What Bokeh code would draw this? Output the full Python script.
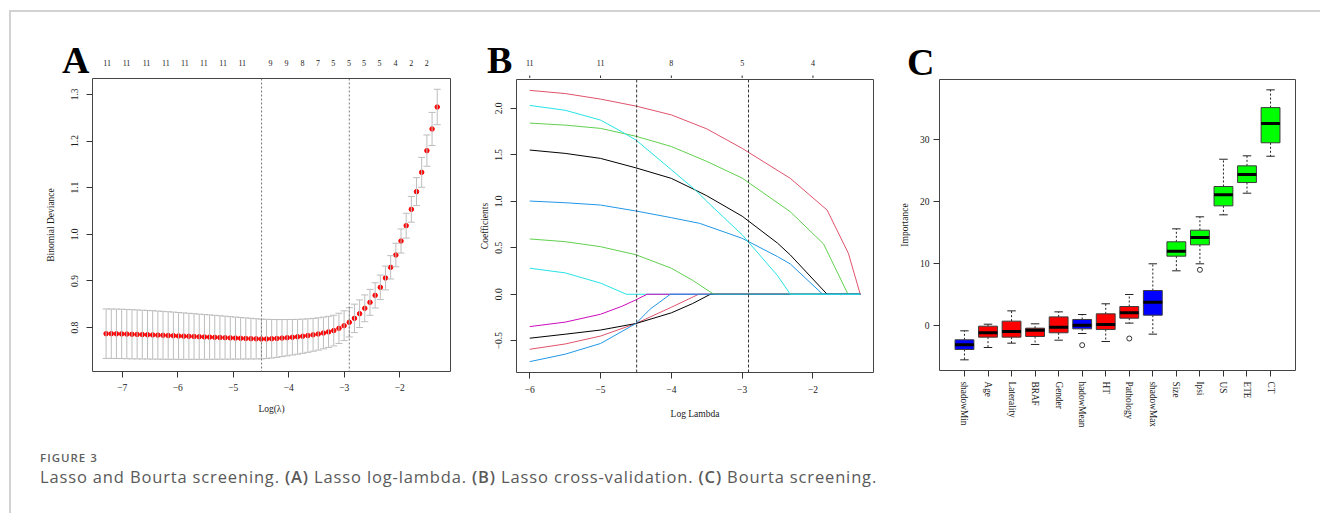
from bokeh.plotting import figure
from bokeh.models import (Range1d, FixedTicker, Span, Whisker, TeeHead,
                          ColumnDataSource, Div, Spacer, CustomJSTickFormatter)
from bokeh.core.properties import value
from bokeh.layouts import row, column
from bokeh.embed import file_html
from bokeh.resources import INLINE

SERIF = "Liberation Serif"

# ---------------- Panel A : cross-validated binomial deviance ----------------
log_lambda_a = [-7.290, -7.197, -7.104, -7.010, -6.917, -6.824, -6.731, -6.638, -6.544, -6.451,
                -6.358, -6.265, -6.172, -6.078, -5.985, -5.892, -5.799, -5.706, -5.613, -5.519,
                -5.426, -5.333, -5.240, -5.147, -5.053, -4.960, -4.867, -4.774, -4.681, -4.587,
                -4.494, -4.401, -4.308, -4.215, -4.122, -4.028, -3.935, -3.842, -3.749, -3.656,
                -3.562, -3.469, -3.376, -3.283, -3.190, -3.096, -3.003, -2.910, -2.817, -2.724,
                -2.631, -2.537, -2.444, -2.351, -2.258, -2.165, -2.071, -1.978, -1.885, -1.792,
                -1.699, -1.606, -1.512, -1.419, -1.326]
deviance_mean = [0.7871, 0.7870, 0.7868, 0.7866, 0.7862, 0.7858, 0.7855, 0.7851, 0.7848, 0.7844,
                 0.7840, 0.7836, 0.7831, 0.7827, 0.7822, 0.7818, 0.7814, 0.7810, 0.7805, 0.7801,
                 0.7797, 0.7793, 0.7789, 0.7785, 0.7780, 0.7776, 0.7772, 0.7768, 0.7764, 0.7760,
                 0.7757, 0.7758, 0.7762, 0.7768, 0.7776, 0.7785, 0.7794, 0.7804, 0.7816, 0.7830,
                 0.7846, 0.7864, 0.7885, 0.7909, 0.7937, 0.7985, 0.8042, 0.8114, 0.8199, 0.8299,
                 0.8414, 0.8542, 0.8692, 0.8864, 0.9064, 0.9293, 0.9557, 0.9857, 1.0186, 1.0536,
                 1.0915, 1.1329, 1.1794, 1.2258, 1.2729]
deviance_se = [0.0530, 0.0530, 0.0529, 0.0529, 0.0528, 0.0527, 0.0525, 0.0523, 0.0521, 0.0519,
               0.0516, 0.0513, 0.0510, 0.0506, 0.0502, 0.0498, 0.0494, 0.0489, 0.0485, 0.0480,
               0.0476, 0.0471, 0.0466, 0.0461, 0.0456, 0.0451, 0.0446, 0.0441, 0.0436, 0.0431,
               0.0426, 0.0420, 0.0413, 0.0405, 0.0397, 0.0389, 0.0381, 0.0373, 0.0366, 0.0359,
               0.0352, 0.0346, 0.0340, 0.0334, 0.0329, 0.0324, 0.0319, 0.0314, 0.0305, 0.0296,
               0.0287, 0.0278, 0.0270, 0.0262, 0.0255, 0.0250, 0.0252, 0.0258, 0.0266, 0.0276,
               0.0300, 0.0320, 0.0335, 0.0355, 0.0380]
top_pos_a = [-7.271, -6.923, -6.562, -6.214, -5.871, -5.529, -5.181, -4.838, -4.328, -4.040,
             -3.751, -3.475, -3.199, -2.917, -2.646, -2.364, -2.076, -1.793, -1.517]
top_nz_a = ["11", "11", "11", "11", "11", "11", "11", "11", "9", "9",
            "8", "7", "5", "5", "5", "5", "4", "2", "2"]
x_ticks_a = [-7, -6, -5, -4, -3, -2]
y_ticks_a = [0.8, 0.9, 1.0, 1.1, 1.2, 1.3]
lambda_min = -4.49
lambda_1se = -2.91

# ---------------- Panel B : coefficient paths ----------------
x_ticks_b = [-6, -5, -4, -3, -2]
y_ticks_b = [-0.5, 0.0, 0.5, 1.0, 1.5, 2.0]
top_nz_b = ["11", "11", "8", "5", "4"]

cyan_low_x = [-6.0, -5.5, -5.0, -4.635, -1.332]
cyan_low_y = [0.28, 0.23, 0.12, 0.0, 0.0]
magenta_x = [-6.0, -5.5, -5.0, -4.7, -4.5, -4.343, -1.332]
magenta_y = [-0.348, -0.30, -0.215, -0.13, -0.06, 0.0, 0.0]
pink_low_x = [-6.0, -5.5, -5.0, -4.5, -4.0, -3.614, -1.332]
pink_low_y = [-0.592, -0.535, -0.45, -0.315, -0.14, 0.0, 0.0]
black_low_x = [-6.0, -5.5, -5.0, -4.5, -4.0, -3.7, -3.449, -1.332]
black_low_y = [-0.473, -0.43, -0.385, -0.315, -0.2, -0.1, 0.0, 0.0]
green_low_x = [-6.0, -5.5, -5.0, -4.5, -4.0, -3.7, -3.4, -1.332]
green_low_y = [0.595, 0.566, 0.512, 0.425, 0.28, 0.15, 0.0, 0.0]
pink_high_x = [-6.0, -5.5, -5.0, -4.5, -4.0, -3.5, -3.0, -2.32, -1.8, -1.5, -1.332]
pink_high_y = [2.194, 2.16, 2.10, 2.025, 1.93, 1.78, 1.57, 1.247, 0.906, 0.441, 0.0]
green_high_x = [-6.0, -5.5, -5.0, -4.5, -4.0, -3.5, -3.0, -2.32, -1.85, -1.505, -1.332]
green_high_y = [1.842, 1.82, 1.785, 1.70, 1.59, 1.43, 1.25, 0.888, 0.541, 0.0, 0.0]
black_high_x = [-6.0, -5.5, -5.0, -4.5, -4.0, -3.66, -3.5, -3.0, -2.5, -2.32, -1.8, -1.332]
black_high_y = [1.552, 1.516, 1.462, 1.36, 1.247, 1.121, 1.06, 0.84, 0.55, 0.423, 0.0, 0.0]
blue_high_x = [-6.0, -5.5, -5.0, -4.5, -4.0, -3.6, -3.0, -2.5, -2.32, -1.863, -1.332]
blue_high_y = [1.003, 0.985, 0.96, 0.896, 0.824, 0.763, 0.602, 0.405, 0.326, 0.0, 0.0]
blue_low_x = [-6.0, -5.5, -5.0, -4.5, -4.3, -4.014, -1.332]
blue_low_y = [-0.725, -0.645, -0.53, -0.315, -0.16, 0.0, 0.0]
cyan_high_x = [-6.0, -5.5, -5.0, -4.75, -4.5, -4.0, -3.66, -3.5, -3.0, -2.5, -2.32, -1.332]
cyan_high_y = [2.032, 1.98, 1.874, 1.77, 1.66, 1.34, 1.121, 1.0, 0.64, 0.20, 0.0, 0.0]

paths_b = [
    (cyan_low_x, cyan_low_y, "#28E2E5"),
    (magenta_x, magenta_y, "#CD0BBC"),
    (pink_low_x, pink_low_y, "#DF536B"),
    (black_low_x, black_low_y, "#000000"),
    (green_low_x, green_low_y, "#61D04F"),
    (pink_high_x, pink_high_y, "#DF536B"),
    (green_high_x, green_high_y, "#61D04F"),
    (black_high_x, black_high_y, "#000000"),
    (blue_high_x, blue_high_y, "#2297E6"),
    (blue_low_x, blue_low_y, "#2297E6"),
    (cyan_high_x, cyan_high_y, "#28E2E5"),
]

# ---------------- Panel C : Boruta importance ----------------
features = ["shadowMin", "Age", "Laterality", "BRAF", "Gender", "shadowMean", "HT",
            "Pathology", "shadowMax", "Size", "Ipsi", "US", "ETE", "CT"]
tick_labels_c = ["shadowMin", "Age", "Laterality", "BRAF", "Gender", "hadowMean", "HT",
                 "Pathology", "shadowMax", "Size", "Ipsi", "US", "ETE", "CT"]
feature_pos = [1, 2, 3, 4, 5, 6, 7, 8, 9, 10, 11, 12, 13, 14]
whisk_lo = [-5.49, -3.5, -2.8, -3.01, -2.32, -1.24, -2.53, 0.43, -1.35, 8.87, 10.0, 17.9, 21.39, 27.35]
q1 = [-3.82, -1.83, -1.83, -1.72, -1.13, -0.49, -0.6, 1.23, 1.71, 11.23, 13.06, 19.35, 23.11, 29.52]
median = [-3.07, -1.13, -0.92, -0.70, -0.22, 0.08, 0.21, 2.09, 3.81, 12.04, 14.24, 21.13, 24.4, 32.63]
q3 = [-2.26, -0.06, 0.75, -0.38, 1.44, 1.02, 1.93, 3.11, 5.69, 13.55, 15.42, 22.47, 25.8, 35.2]
whisk_hi = [-0.81, 0.26, 2.41, 0.32, 2.25, 1.82, 3.55, 5.05, 10.0, 15.64, 17.58, 26.87, 27.42, 38.06]
decision = ["shadow", "rejected", "rejected", "rejected", "rejected", "shadow", "rejected",
            "rejected", "shadow", "confirmed", "confirmed", "confirmed", "confirmed", "confirmed"]
outlier_feature = [6, 8, 11]
outlier_value = [-3.12, -2.05, 9.03]
y_ticks_c = [0, 10, 20, 30]
decision_colors = {"shadow": "#0000FF", "rejected": "#FF0000", "confirmed": "#00FF00"}

MINUS_FMT = "var s = (Math.abs(tick) < 1e-9) ? '0' : String(Math.abs(tick)); return (tick < -1e-9 ? '\u2212' : '') + s;"
ONE_DEC_FMT = "var s = Math.abs(tick).toFixed(1); return (tick < -1e-9 ? '\u2212' : '') + s;"


def style_axis(ax, standoff, label_standoff, tick_out=6, font="9.5px"):
    ax.axis_line_color = None
    ax.major_tick_line_color = "#333333"
    ax.major_tick_out = tick_out
    ax.major_tick_in = 0
    ax.minor_tick_line_color = None
    ax.major_label_text_font = SERIF
    ax.major_label_text_font_size = font
    ax.major_label_text_color = "#1a1a1a"
    ax.major_label_standoff = standoff
    ax.axis_label_text_font = SERIF
    ax.axis_label_text_font_style = "normal"
    ax.axis_label_text_font_size = "9.5px"
    ax.axis_label_text_color = "#1a1a1a"
    ax.axis_label_standoff = label_standoff


def make_fig(fw, fh, bl, br, bt, bb, xr, yr):
    p = figure(frame_width=fw, frame_height=fh, min_border_left=bl, min_border_right=br,
               min_border_top=bt, min_border_bottom=bb, x_range=Range1d(*xr), y_range=Range1d(*yr),
               output_backend="svg", toolbar_location=None, title=None)
    p.frame_align = False
    p.grid.visible = False
    p.outline_line_color = "#444444"
    p.outline_line_width = 1
    p.background_fill_color = "white"
    p.border_fill_color = "white"
    return p


def make_strip(fw, left_px, br, xr, height):
    """Header strip sharing the panel's horizontal scale; it starts left_px right of the frame's left edge."""
    scale = fw / (xr[1] - xr[0])
    w = fw - left_px + br
    s = figure(frame_width=w, frame_height=height, min_border=0,
               x_range=Range1d(xr[0] + left_px / scale, xr[1] + br / scale), y_range=Range1d(0, height),
               output_backend="svg", toolbar_location=None, title=None,
               x_axis_location=None, y_axis_location=None)
    s.frame_align = False
    s.min_border_left = 0
    s.min_border_right = 0
    s.min_border_top = 0
    s.min_border_bottom = 0
    s.grid.visible = False
    s.outline_line_color = None
    s.border_fill_color = "white"
    s.background_fill_color = "white"
    return s


def letter_div(text, width, height, left, top):
    return Div(width=width, height=height, margin=0, text=(
        f'<div style="padding:{top}px 0 0 {left}px;font-family:\'{SERIF}\',serif;font-weight:bold;'
        f'font-size:38px;line-height:38px;color:#000;">{text}</div>'))


def count_labels(s, xs, labels, y):
    s.text(x=xs, y=[y] * len(xs), text=labels, text_font=value(SERIF), text_font_size="8px",
           text_color="#1a1a1a", text_align="center", text_baseline="middle")


# ---- Panel A
A_FW, A_BL, A_BR, A_XR = 358, 81, 24, (-7.535, -1.087)
pA = make_fig(A_FW, 293, A_BL, A_BR, 2, 57, A_XR, (0.706, 1.334))
pA.xaxis.ticker = FixedTicker(ticks=x_ticks_a)
pA.xaxis.formatter = CustomJSTickFormatter(code=MINUS_FMT)
pA.yaxis.ticker = FixedTicker(ticks=y_ticks_a)
pA.yaxis.formatter = CustomJSTickFormatter(code=ONE_DEC_FMT)
pA.yaxis.major_label_orientation = "vertical"
pA.xaxis.axis_label = "Log(\u03bb)"
pA.yaxis.axis_label = "Binomial Deviance"
style_axis(pA.xaxis[0], 6, 10)
style_axis(pA.yaxis[0], 8, 13)

srcA = ColumnDataSource(dict(x=log_lambda_a, m=deviance_mean,
                             up=[m + s for m, s in zip(deviance_mean, deviance_se)],
                             lo=[m - s for m, s in zip(deviance_mean, deviance_se)]))
pA.add_layout(Whisker(source=srcA, base="x", upper="up", lower="lo", line_color="#bdbdbd",
                      line_width=1, level="glyph",
                      upper_head=TeeHead(size=7, line_color="#bdbdbd", line_width=1),
                      lower_head=TeeHead(size=7, line_color="#bdbdbd", line_width=1)))
for loc in (lambda_min, lambda_1se):
    pA.add_layout(Span(location=loc, dimension="height", line_color="#777777",
                       line_dash="2 2", line_width=1))
pA.scatter("x", "m", source=srcA, size=4.5, color="#FF0000", line_color="#FF0000")

A_LW = 88
sA = make_strip(A_FW, A_LW - A_BL, A_BR, A_XR, 64)
count_labels(sA, top_pos_a, top_nz_a, 13.7)
headA = row(letter_div("A", A_LW, 64, 51, 29), sA)

# ---- Panel B
B_FW, B_BL, B_BR, B_XR = 357, 42, 23, (-6.187, -1.145)
pB = make_fig(B_FW, 293, B_BL, B_BR, 1, 56, B_XR, (-0.842, 2.311))
pB.xaxis.ticker = FixedTicker(ticks=x_ticks_b)
pB.xaxis.formatter = CustomJSTickFormatter(code=MINUS_FMT)
pB.yaxis.ticker = FixedTicker(ticks=y_ticks_b)
pB.yaxis.formatter = CustomJSTickFormatter(code=ONE_DEC_FMT)
pB.yaxis.major_label_orientation = "vertical"
pB.xaxis.axis_label = "Log Lambda"
pB.yaxis.axis_label = "Coefficients"
style_axis(pB.xaxis[0], 7, 13)
style_axis(pB.yaxis[0], 8, 3)
for xs, ys, col in paths_b:
    pB.line(xs, ys, line_color=col, line_width=1)
for loc in (lambda_min, lambda_1se):
    pB.add_layout(Span(location=loc, dimension="height", line_color="#333333",
                       line_dash="3 2", line_width=1))

B_LW = 48
sB = make_strip(B_FW, B_LW - B_BL, B_BR, B_XR, 66)
count_labels(sB, x_ticks_b, top_nz_b, 15.3)
sB.segment(x0=x_ticks_b, y0=[0] * len(x_ticks_b), x1=x_ticks_b, y1=[3] * len(x_ticks_b),
           line_color="#333333", line_width=1)
headB = row(letter_div("B", B_LW, 66, 13, 29), sB)

# ---- Panel C
C_FW, C_BL, C_BR, C_XR = 356, 41, 21, (-0.06, 15.06)
pC = make_fig(C_FW, 291, C_BL, C_BR, 2, 58, C_XR, (-7.21, 39.73))
pC.xaxis.ticker = FixedTicker(ticks=feature_pos)
pC.xaxis.major_label_overrides = {t: s for t, s in zip(feature_pos, tick_labels_c)}
pC.xaxis.major_label_orientation = "vertical"
pC.yaxis.ticker = FixedTicker(ticks=y_ticks_c)
pC.yaxis.axis_label = "Importance"
style_axis(pC.xaxis[0], 5, 0, font="9.3px")
style_axis(pC.yaxis[0], 4, 7)

srcC = ColumnDataSource(dict(
    x=feature_pos, q1=q1, q3=q3, med=median, lo=whisk_lo, hi=whisk_hi,
    color=[decision_colors[d] for d in decision],
    x0=[x - 0.4 for x in feature_pos], x1=[x + 0.4 for x in feature_pos],
    s0=[x - 0.18 for x in feature_pos], s1=[x + 0.18 for x in feature_pos]))
pC.segment(x0="x", y0="q3", x1="x", y1="hi", source=srcC, line_color="#222222", line_dash="2 2")
pC.segment(x0="x", y0="q1", x1="x", y1="lo", source=srcC, line_color="#222222", line_dash="2 2")
pC.segment(x0="s0", y0="hi", x1="s1", y1="hi", source=srcC, line_color="#222222")
pC.segment(x0="s0", y0="lo", x1="s1", y1="lo", source=srcC, line_color="#222222")
pC.vbar(x="x", width=0.8, bottom="q1", top="q3", source=srcC, fill_color="color",
        line_color="#3c3c3c", line_width=1)
pC.segment(x0="x0", y0="med", x1="x1", y1="med", source=srcC, line_color="black", line_width=3)
pC.scatter(outlier_feature, outlier_value, size=5, marker="circle", fill_color=None,
           line_color="#333333", line_width=1)

headC = letter_div("C", C_BL + C_FW + C_BR, 65, 11, 31)

# ---- frame lines and caption
LINE = "#d2d2d2"
top_line = Div(width=1311, height=2, margin=0, text="", styles={"background-color": LINE})
left_line = Div(width=2, height=501, margin=0, text="", styles={"background-color": LINE})
caption = Div(width=1300, height=85, margin=0, text=(
    '<div style="padding:20px 0 0 29px;font-family:\'Open Sans\',sans-serif;color:#5a5a5a;white-space:nowrap;">'
    '<div style="font-size:11.5px;line-height:16px;font-weight:600;letter-spacing:1px;color:#5f5f5f;">FIGURE 3</div>'
    '<div style="font-size:16.5px;line-height:20px;margin-top:1px;letter-spacing:0.85px;">'
    'Lasso and Bourta screening. <b style="font-weight:600">(A)</b> Lasso log-lambda. '
    '<b style="font-weight:600">(B)</b> Lasso cross-validation. '
    '<b style="font-weight:600">(C)</b> Bourta screening.</div></div>'))

panels = row(column(headA, pA), column(headB, pB), column(headC, pC))
layout = column(
    Spacer(width=1320, height=10),
    row(Spacer(width=9, height=2), top_line),
    row(Spacer(width=9, height=501), left_line, column(panels, caption)),
)

open("out.html", "w").write(file_html(layout, INLINE))
